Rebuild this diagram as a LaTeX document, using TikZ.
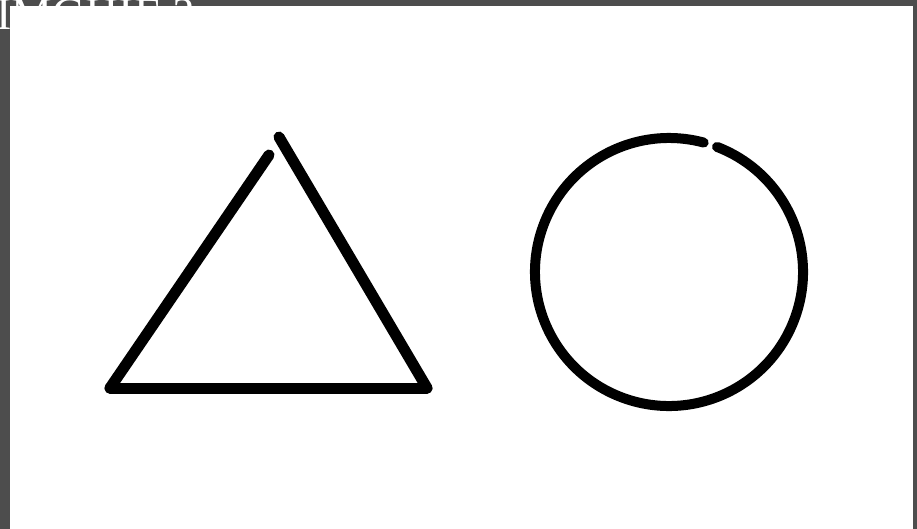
\documentclass[tikz,border=0pt]{standalone}
\usepackage{fontspec}
\setmainfont{Liberation Serif}
\definecolor{framegray}{HTML}{4D4D4D}
\begin{document}
\begin{tikzpicture}[x=1pt,y=-1pt,
  shape line/.style={line width=11pt, line cap=round, line join=round, black}]
\useasboundingbox (0,0) rectangle (917,529);
\fill[framegray] (0,0) rectangle (917,529);
\node[anchor=base west, inner sep=0pt, text=white, font=\fontsize{46}{46}\selectfont] (title) at (-4,30) {IMGHIE ?};
\fill[white] (10,6) rectangle (913,529);
% triangle
\coordinate (tl) at (110,388);
\coordinate (tr) at (427,388);
\coordinate (ta) at (269,155);
\coordinate (tb) at (279,137);
\draw[shape line] (tl) -- (ta);
\draw[shape line] (tb) -- (tr);
\draw[shape line] (tl) -- (tr);
% circle with gap
\coordinate (cc) at (669,272);
\draw[shape line, line width=10pt] ([shift={(-69:134)}]cc) arc[start angle=-69, end angle=285, radius=134];
\end{tikzpicture}
\end{document}
